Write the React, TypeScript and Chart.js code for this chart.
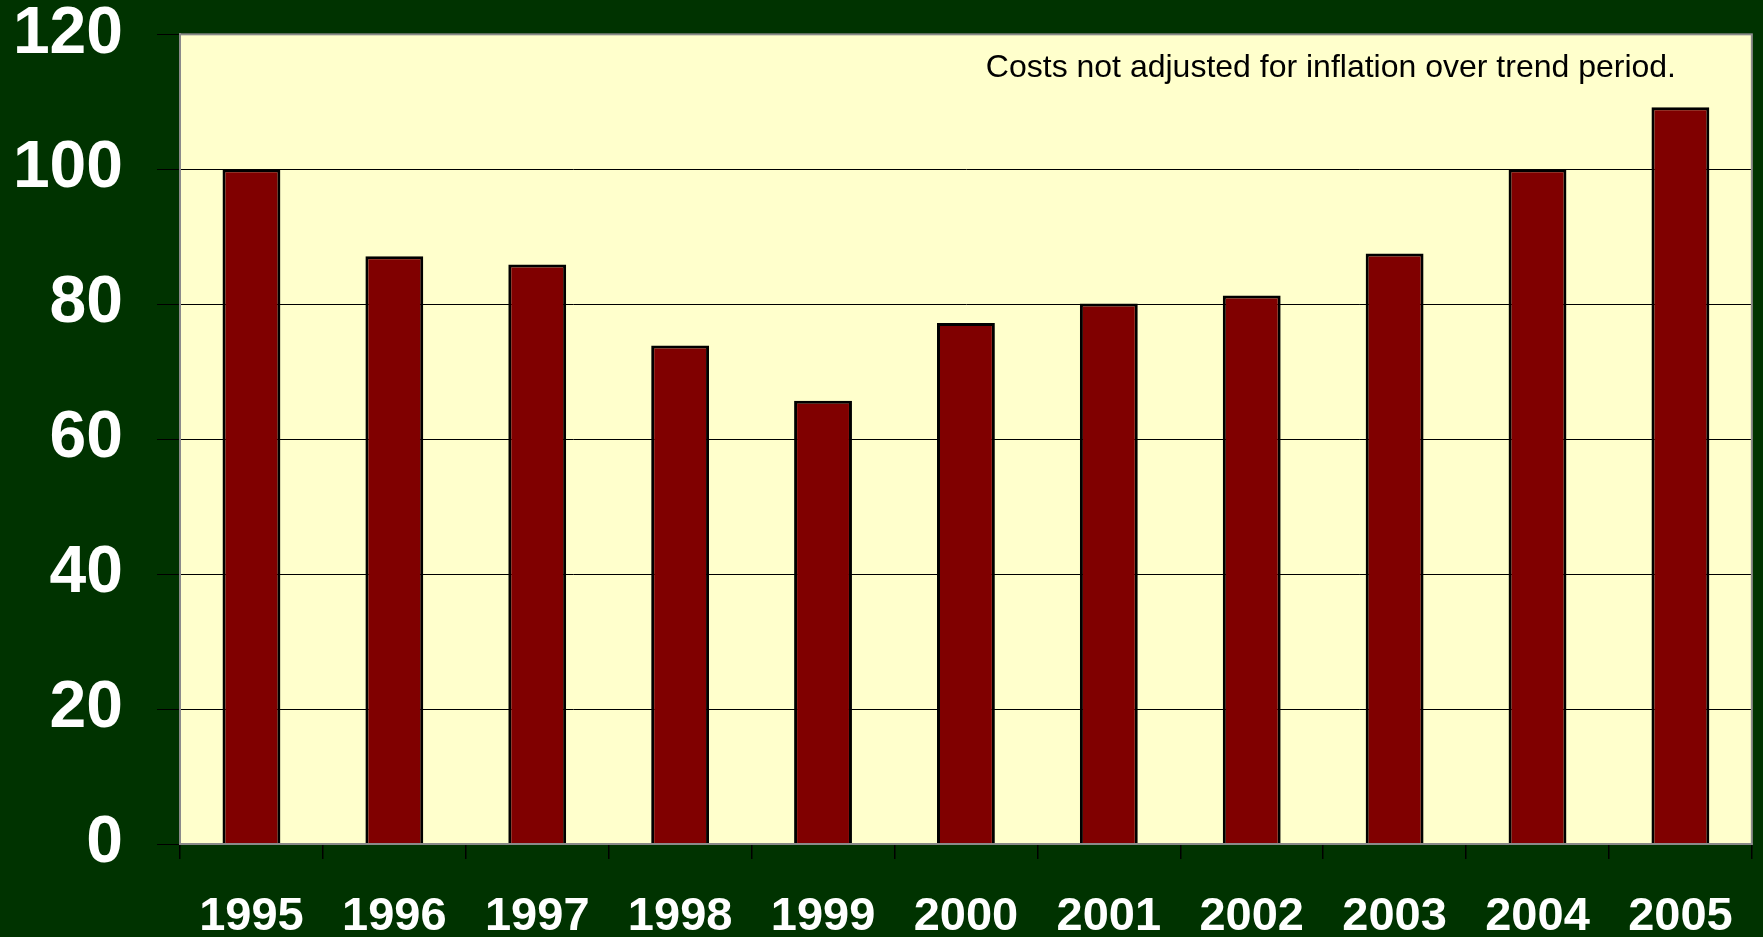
import React, { useEffect, useRef } from "react";
import { Chart, registerables } from "chart.js";

Chart.register(...registerables);

const years = ["1995", "1996", "1997", "1998", "1999", "2000", "2001", "2002", "2003", "2004", "2005"];
const costIndex = [100, 87.1, 85.9, 73.9, 65.7, 77.2, 80.1, 81.3, 87.5, 100, 109.2];
const yTicks = [0, 20, 40, 60, 80, 100, 120];
const note = "Costs not adjusted for inflation over trend period.";

const W = 1763;
const H = 937;

const plotArea = {
  id: "plotArea",
  beforeDraw(chart: any) {
    const { ctx, chartArea: a } = chart;
    ctx.save();
    ctx.fillStyle = "#FFFFCC";
    ctx.fillRect(a.left, a.top, a.right - a.left, a.bottom - a.top);
    ctx.restore();
  },
  afterDraw(chart: any) {
    const { ctx, chartArea: a } = chart;
    ctx.save();
    ctx.strokeStyle = "#8a8a8a";
    ctx.lineWidth = 2;
    ctx.strokeRect(a.left, a.top, a.right - a.left, a.bottom - a.top);
    ctx.fillStyle = "#000000";
    ctx.font = "32px 'Liberation Sans', Arial, sans-serif";
    ctx.textAlign = "right";
    ctx.textBaseline = "alphabetic";
    ctx.fillText(note, 1676, 77);
    ctx.restore();
  },
};

export default function App() {
  const ref = useRef<HTMLCanvasElement>(null);
  useEffect(() => {
    const chart = new Chart(ref.current!, {
      type: "bar",
      data: {
        labels: years,
        datasets: [
          {
            data: costIndex,
            backgroundColor: "#800000",
            borderColor: "#000000",
            borderWidth: 3,
            barPercentage: 0.405,
            categoryPercentage: 1,
          },
        ],
      },
      options: {
        animation: false,
        responsive: false,
        maintainAspectRatio: false,
        layout: { padding: { top: 0, right: 7, left: 0, bottom: 0 } },
        plugins: { legend: { display: false }, tooltip: { enabled: false } },
        scales: {
          x: {
            grid: {
              offset: true,
              drawOnChartArea: false,
              color: "#000000",
              tickLength: 15,
              lineWidth: 1.5,
            },
            border: { color: "#8a8a8a", width: 2 },
            ticks: {
              color: "#ffffff",
              padding: 30,
              maxRotation: 0,
              autoSkip: false,
              font: { family: "'Liberation Sans', Arial, sans-serif", size: 47, weight: "bold" },
            },
            afterFit(scale: any) {
              scale.height = 93;
            },
          },
          y: {
            min: 0,
            max: 120,
            afterBuildTicks(scale: any) {
              scale.ticks = yTicks.map((v) => ({ value: v }));
            },
            grid: { color: "#000000", lineWidth: 1, tickLength: 23 },
            border: { color: "#8a8a8a", width: 2 },
            ticks: {
              color: "#ffffff",
              padding: 34,
              font: { family: "'Liberation Sans', Arial, sans-serif", size: 66, weight: "bold", lineHeight: 0.01 },
            },
            afterFit(scale: any) {
              scale.width = 180;
            },
          },
        },
      },
      plugins: [plotArea],
    });
    return () => chart.destroy();
  }, []);
  return (
    <div style={{ position: "fixed", left: 0, top: 0, width: W, height: H, background: "#003300" }}>
      <canvas ref={ref} width={W} height={H} style={{ display: "block", width: W, height: H }} />
    </div>
  );
}
